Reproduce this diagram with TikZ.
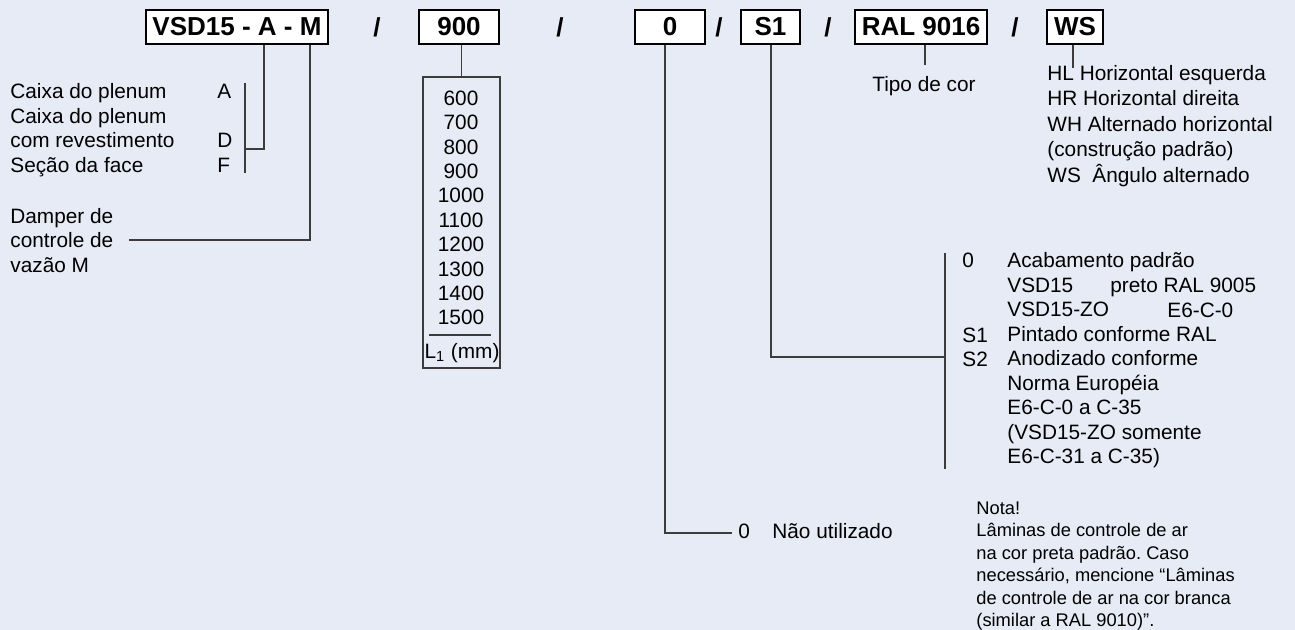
\documentclass[tikz,border=0pt]{standalone}
\usepackage{fontspec}
\setmainfont{Liberation Sans}
\definecolor{paneblue}{RGB}{230,235,245}
\definecolor{wiregray}{RGB}{60,60,60}
\frenchspacing

\begin{document}
\begin{tikzpicture}[x=0.5pt, y=-0.5pt,
    code/.style={rectangle, draw, fill=white, line width=0.6pt, minimum height=17pt, inner sep=1pt, font=\fontsize{13}{14}\selectfont\bfseries},
    sep/.style={font=\fontsize{13}{14}\selectfont\bfseries},
    txt/.style={anchor=west, align=left, inner sep=0pt, font=\fontsize{10.4}{12.25}\selectfont},
    one/.style={txt, text height=7.6pt, text depth=2.2pt},
    note/.style={anchor=west, align=left, inner sep=0pt, font=\fontsize{9.15}{11.2}\selectfont},
    wire/.style={draw=wiregray, line width=0.75pt}]

    \fill [paneblue] (0,0) rectangle (1295,630);
    \useasboundingbox (0,0) rectangle (1295,630);

    % type code
    \node [code, minimum width=91pt] (b1) at (237,27) {VSD15 - A - M};
    \node [code, minimum width=40pt] (b2) at (459,27) {900};
    \node [code, minimum width=35pt] (b3) at (670,27) {0};
    \node [code, minimum width=29.5pt] (b4) at (770.5,27) {S1};
    \node [code, minimum width=66pt] (b5) at (921,27) {RAL 9016};
    \node [code, minimum width=28pt] (b6) at (1075,27) {WS};

    \node [sep] (s1) at (377,27) {/};
    \node [sep] (s2) at (560,27) {/};
    \node [sep] (s3) at (719,27) {/};
    \node [sep] (s4) at (828,27) {/};
    \node [sep] (s5) at (1015,27) {/};

    % design
    \node [txt] (plenum) at (10,130) {Caixa do plenum\\Caixa do plenum\\com revestimento\\Seção da face};
    \node [one] (optA) at (217,93) {A};
    \node [one] (optD) at (217,142) {D};
    \node [one] (optF) at (217,167) {F};
    \node [txt] (damper) at (10,240.5) {Damper de\\controle de\\vazão M};

    % length
    \node [draw=wiregray, line width=0.6pt, minimum width=38.5pt, minimum height=145.5pt, inner sep=0pt] (lst) at (461.5,222.5) {};
    \node [txt, anchor=center, align=center, font=\fontsize{10.4}{12.2}\selectfont] (sizes) at (461,208) {600\\700\\800\\900\\1000\\1100\\1200\\1300\\1400\\1500};
    \node [one, anchor=center] (unit) at (462,353) {L\textsubscript{1} (mm)};
    \coordinate (rule1) at (429,335);
    \coordinate (rule2) at (491,335);

    % accessories, finish, colour, orientation
    \node [one] (none0) at (738,533) {0};
    \node [one] (none) at (772,533) {Não utilizado};

    \node [one] (fin0) at (962,262) {0};
    \node [one] (finS1) at (962,337) {S1};
    \node [one] (finS2) at (962,361) {S2};
    \node [txt] (finish) at (1007,360.5) {Acabamento padrão\\VSD15\\VSD15-ZO\\Pintado conforme RAL\\Anodizado conforme\\Norma Européia\\E6-C-0 a C-35\\(VSD15-ZO somente\\E6-C-31 a C-35)};
    \node [one] (black) at (1110,287) {preto RAL 9005};
    \node [one] (anod) at (1167,312) {E6-C-0};

    \node [one, anchor=center] (tipo) at (924,86) {Tipo de cor};
    \node [txt, font=\fontsize{10.4}{12.75}\selectfont] (orient) at (1047,126) {HL Horizontal esquerda\\HR Horizontal direita\\WH Alternado horizontal\\(construção padrão)\\WS\ \ Ângulo alternado};

    \node [note] (nota) at (976,566) {Nota!\\Lâminas de controle de ar\\na cor preta padrão. Caso\\necessário, mencione “Lâminas\\de controle de ar na cor branca\\(similar a RAL 9010)”.};

    \coordinate (tapA) at (264,0);
    \coordinate (tapM) at (310,0);
    \coordinate (barA1) at (245,83);
    \coordinate (barA2) at (245,173);
    \coordinate (endA) at (245,149);
    \coordinate (endM) at (129,240);
    \coordinate (tap0) at (665,0);
    \coordinate (endN) at (732,533);
    \coordinate (tapS) at (771,0);
    \coordinate (barS1) at (945,253);
    \coordinate (barS2) at (945,469);
    \coordinate (endS) at (945,357);
    \coordinate (endT) at (925,65);
    \coordinate (endW) at (1073,68);

    \begin{scope}[wire]
        \draw (barA1) -- (barA2);
        \draw (b1.south -| tapA) |- (endA);
        \draw (b1.south -| tapM) |- (endM);
        \draw (b2.south -| lst.north) -- (lst.north);
        \draw (rule1) -- (rule2);
        \draw (b3.south -| tap0) |- (endN);
        \draw (barS1) -- (barS2);
        \draw (b4.south -| tapS) |- (endS);
        \draw (b5.south -| endT) -- (endT);
        \draw (b6.south -| endW) -- (endW);
    \end{scope}
\end{tikzpicture}
\end{document}
